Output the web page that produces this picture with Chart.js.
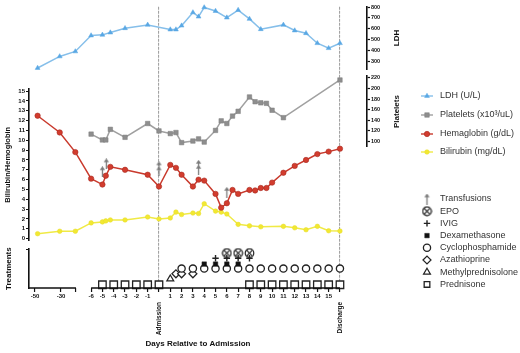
<!DOCTYPE html>
<html>
<head>
<meta charset="utf-8">
<script src="https://cdn.jsdelivr.net/npm/chart.js@4.4.1/dist/chart.umd.min.js"></script>
<style>
html,body{margin:0;padding:0;background:#fff;}
#wrap{position:relative;width:520px;height:353px;}
</style>
</head>
<body>
<div id="wrap"><canvas id="chart" width="520" height="353"></canvas></div>
<script>
// ================= DATA =================
const ldhDays   = [-48,-31,-19,-6,-5,-4.3,-3,-1,1,1.5,2,3,3.5,4,5,6,7,8,9,11,12,13,14,15,16];
const ldhValues = [237,344,390,537,543,564,604,635,592,592,628,750,711,796,763,702,772,690,595,635,583,558,466,420,466];

const plateletDays   = [-6,-5,-4.7,-4.3,-3,-1,0,1,1.5,2,3,3.5,4,5,5.5,6,6.5,7,8,8.5,9,9.5,10,11,16];
const plateletValues = [114,103,103,123,108,134,120,115,117,98,101,105,99,121,139,134,148,157,184,175,173,172,159,145,216];

const hemoglobinDays   = [-48,-31,-19,-6,-5,-4.7,-4.3,-3,-1,0,1,1.5,2,3,3.5,4,5,5.5,6,6.5,7,8,8.5,9,9.5,10,11,12,13,14,15,16];
const hemoglobinValues = [12.5,10.8,8.8,6.1,5.5,6.4,7.3,7.0,6.5,5.3,7.5,7.2,6.5,5.3,6.0,5.9,4.55,3.15,3.6,4.95,4.55,4.95,4.9,5.15,5.15,5.7,6.7,7.4,8.0,8.6,8.85,9.15];

const bilirubinDays   = [-48,-31,-19,-6,-5,-4.7,-4.3,-3,-1,0,1,1.5,2,3,3.5,4,5,5.5,6,7,8,9,11,12,13,14,15,16];
const bilirubinValues = [0.5,0.75,0.75,1.6,1.7,1.8,1.9,1.9,2.2,2.0,2.1,2.7,2.45,2.6,2.55,3.55,2.8,2.7,2.5,1.45,1.3,1.2,1.25,1.1,0.9,1.25,0.8,0.77];

// transfusions (marker level read on the Bilirubin/Hemoglobin scale, units given)
const transfusionDays   = [-5,-4.65,0,3.5,6];
const transfusionLevels = [6.8,7.6,7.1,7.25,4.7];
const transfusionUnits  = [1,1,2,2,1];

// treatments
const epoDays    = [6,7,8];
const ivigDays   = [5,6,7,8];
const dexaDays   = [4,5,6,7];
const cycloDays  = [2,3,4,5,6,7,8,9,10,11,12,13,14,15,16];
const azaDays    = [1.5,2,3];
const methylDays = [1];
const predDays   = [-5,-4,-3,-2,-1,0,8,9,10,11,12,13,14,15,16];
const treatmentNames  = ['Transfusions','EPO','IVIG','Dexamethasone','Cyclophosphamide','Azathioprine','Methylprednisolone','Prednisone'];
const treatmentLevels = {EPO:5.4, IVIG:4.6, Dexamethasone:3.7, Cyclophosphamide:3.0, Azathioprine:2.2, Methylprednisolone:1.4, Prednisone:0.5};

// axis ticks
const xTickDays = [-50,-30,-18.5,-6,-5,-4,-3,-2,-1,0,1,2,3,4,5,6,7,8,9,10,11,12,13,14,15,16];
const xTickLabels = xTickDays.map(d => (d === 0 || d === 16 || d === -18.5) ? '' : String(d));
const milestoneDays = [0,16];
const milestoneLabels = ['Admission','Discharge'];
const ldhTicks = [300,400,500,600,700,800];
const plateletTicks = [100,120,140,160,180,200,220];
const hgbTicks = [0,1,2,3,4,5,6,7,8,9,10,11,12,13,14,15];
const seriesLabels = ['LDH (U/L)','Platelets (x10\u00B3/uL)','Hemaglobin (g/dL)','Bilirubin (mg/dL)'];

// ================= AXIS BREAK (days -> axis units) =================
const LEFT_SEGMENT_END = -18.5;
function pos(d){ return d <= -18 ? -8.66 + (d + 30) * 0.115 : d; }
const X_MIN = -11.49, X_MAX = 18.39;
const toPts = (days, vals) => days.map((d,i) => ({x: pos(d), y: vals[i]}));
const rowPts = (days, level) => days.map(d => ({x: pos(d), y: level}));

// ================= ICONS =================
function icon(w,h,draw){ const c=document.createElement('canvas'); c.width=w; c.height=h; draw(c.getContext('2d'),w,h); return c; }
function arrowHead(g,x,y){ g.beginPath(); g.moveTo(x,y); g.lineTo(x-2.7,y+3.8); g.lineTo(x+2.7,y+3.8); g.closePath(); g.fill(); }
const arrow1 = icon(7,11,(g,w,h)=>{ g.strokeStyle='#7b7b7b'; g.fillStyle='#7b7b7b'; g.lineWidth=1.3;
  g.beginPath(); g.moveTo(w/2,h); g.lineTo(w/2,2); g.stroke(); arrowHead(g,w/2,0); });
const arrow2 = icon(7,15,(g,w,h)=>{ g.strokeStyle='#7b7b7b'; g.fillStyle='#7b7b7b'; g.lineWidth=1.3;
  g.beginPath(); g.moveTo(w/2,h); g.lineTo(w/2,2); g.stroke(); arrowHead(g,w/2,0); arrowHead(g,w/2,5); });
const epoIcon = icon(11,11,(g)=>{ g.strokeStyle='#222'; g.lineWidth=1.2; g.beginPath(); g.arc(5.5,5.5,4.3,0,Math.PI*2); g.stroke();
  g.beginPath(); g.moveTo(2.7,2.7); g.lineTo(8.3,8.3); g.moveTo(8.3,2.7); g.lineTo(2.7,8.3); g.stroke(); });

// ================= CHART =================
const FONT = '"Liberation Sans", Arial, Helvetica, sans-serif';
Chart.defaults.font.family = FONT;
Chart.defaults.color = '#111';

function spacer(position, stack, weight, stackWeight, width){
  return {type:'linear', position, stack, weight, stackWeight, display:true, min:0, max:1, bounds:'data',
    ticks:{display:false}, grid:{display:false, drawTicks:false}, border:{display:false},
    afterFit: s => { s.width = width; }};
}
const axisGrid = {display:true, drawOnChartArea:false, tickLength:3, tickColor:'#111', tickWidth:1.2};
const axisBorder = {display:true, color:'#111', width:1.6};
const titleFont = {size:7.5, weight:'bold'};

function treatDs(name, days, style, radius, fill, extra){
  return Object.assign({label:name, data: rowPts(days, treatmentLevels[name]), yAxisID:'yTreat', showLine:false,
    pointStyle:style, pointRadius:radius, pointBackgroundColor:fill, pointBorderColor:'#222', pointBorderWidth:1.2,
    borderColor:'#222', backgroundColor:fill, clip:false}, extra||{});
}

const datasets = [
  {label:'Transfusions', data: toPts(transfusionDays, transfusionLevels), yAxisID:'yHgb', showLine:false,
   pointStyle: c => transfusionUnits[c.dataIndex] > 1 ? arrow2 : arrow1, pointRadius:5, clip:false,
   borderColor:'#7b7b7b', backgroundColor:'#7b7b7b'},
  {label:seriesLabels[2], data: toPts(hemoglobinDays, hemoglobinValues), yAxisID:'yHgb',
   borderColor:'#c93a2d', borderWidth:1.5, pointStyle:'circle', pointRadius:2.7,
   pointBackgroundColor:'#d23c2e', pointBorderColor:'#a82a20', pointBorderWidth:0.6, tension:0, clip:false},
  {label:seriesLabels[1], data: toPts(plateletDays, plateletValues), yAxisID:'yPlt',
   borderColor:'#a0a0a0', borderWidth:1.5, pointStyle:'rect', pointRadius:3.2,
   pointBackgroundColor:'#8e8e8e', pointBorderColor:'#7c7c7c', pointBorderWidth:0.5, tension:0, clip:false},
  {label:seriesLabels[0], data: toPts(ldhDays, ldhValues), yAxisID:'yLDH',
   borderColor:'#86bfea', borderWidth:1.5, pointStyle:'triangle', pointRadius:2.8,
   pointBackgroundColor:'#5aa8e4', pointBorderColor:'#5aa8e4', pointBorderWidth:0.5, tension:0, clip:false},
  {label:seriesLabels[3], data: toPts(bilirubinDays, bilirubinValues), yAxisID:'yHgb',
   borderColor:'#f0ea45', borderWidth:1.5, pointStyle:'circle', pointRadius:2.3,
   pointBackgroundColor:'#f2e832', pointBorderColor:'#e6dc2a', pointBorderWidth:0.5, tension:0, clip:false},
  treatDs('EPO', epoDays, epoIcon, 5.5, '#fff'),
  treatDs('IVIG', ivigDays, 'cross', 3.2, '#222', {pointBorderWidth:1.4}),
  treatDs('Dexamethasone', dexaDays, 'rect', 3.2, '#111', {pointBorderWidth:0.5}),
  treatDs('Cyclophosphamide', cycloDays, 'circle', 3.6, '#fff', {pointBorderWidth:1.3}),
  treatDs('Azathioprine', azaDays, 'rectRot', 4, '#fff'),
  treatDs('Methylprednisolone', methylDays, 'triangle', 4, '#fff'),
  treatDs('Prednisone', predDays, 'rect', 5.3, '#fff', {pointBorderWidth:1.3})
];

const byLabel = l => datasets.find(d => d.label === l);

const layoutPlugin = {
  id:'extras',
  afterDraw(chart){
    const ctx = chart.ctx, ca = chart.chartArea, xs = chart.scales.x;
    ctx.save();
    // broken x axis line
    ctx.strokeStyle = '#111'; ctx.lineWidth = 1.6;
    ctx.beginPath();
    ctx.moveTo(ca.left, ca.bottom); ctx.lineTo(xs.getPixelForValue(pos(LEFT_SEGMENT_END)), ca.bottom);
    ctx.moveTo(xs.getPixelForValue(pos(-6)), ca.bottom); ctx.lineTo(xs.getPixelForValue(pos(16)), ca.bottom);
    ctx.stroke();
    // right axis titles (reading bottom to top)
    ctx.fillStyle = '#111'; ctx.font = 'bold 8px ' + FONT; ctx.textAlign = 'center'; ctx.textBaseline = 'middle';
    [['yLDH','LDH'],['yPlt','Platelets']].forEach(([id,t]) => {
      const s = chart.scales[id];
      ctx.save(); ctx.translate(s.right - 10, (s.top + s.bottom)/2); ctx.rotate(-Math.PI/2); ctx.fillText(t,0,0); ctx.restore();
    });
    // legends
    const MX = 427, TX = 440;
    ctx.font = '9px ' + FONT; ctx.textAlign = 'left'; ctx.fillStyle = '#333';
    const seriesY = [96,115,134,152];
    seriesLabels.forEach((l,i) => {
      const ds = byLabel(l), y = seriesY[i];
      ctx.strokeStyle = ds.borderColor; ctx.lineWidth = 1.4;
      ctx.beginPath(); ctx.moveTo(MX-6,y); ctx.lineTo(MX+6,y); ctx.stroke();
      ctx.fillStyle = ds.pointBackgroundColor; ctx.strokeStyle = ds.pointBorderColor; ctx.lineWidth = ds.pointBorderWidth;
      Chart.helpers.drawPoint(ctx, {pointStyle:ds.pointStyle, radius:ds.pointRadius, borderWidth:ds.pointBorderWidth, rotation:0}, MX, y);
      ctx.fillStyle = '#333'; ctx.fillText(l, TX, y);
    });
    treatmentNames.forEach((l,i) => {
      const ds = byLabel(l), y = 199 + i*12.2;
      const style = l === 'Transfusions' ? arrow1 : ds.pointStyle;
      const r = Math.min(ds.pointRadius, 4);
      ctx.fillStyle = ds.pointBackgroundColor || '#777'; ctx.strokeStyle = ds.pointBorderColor || '#777';
      ctx.lineWidth = ds.pointBorderWidth || 1;
      Chart.helpers.drawPoint(ctx, {pointStyle:style, radius:r, borderWidth:ds.pointBorderWidth || 1, rotation:0}, MX, y);
      ctx.fillStyle = '#333'; ctx.fillText(l, TX, y);
    });
    ctx.restore();
  }
};

new Chart(document.getElementById('chart'), {
  type:'line',
  data:{datasets},
  options:{
    responsive:false, animation:false, events:[],
    layout:{padding:{top:5, right:113, bottom:0, left:0}},
    plugins:{legend:{display:false}, tooltip:{enabled:false}},
    scales:{
      x:{type:'linear', position:'bottom', weight:1, min:X_MIN, max:X_MAX, bounds:'data',
        afterBuildTicks: s => { s.ticks = xTickDays.map(d => ({value: pos(d)})); },
        ticks:{autoSkip:false, maxRotation:0, minRotation:0, padding:1, font:{size:6, weight:'bold'}, color:'#111',
          callback:(v,i) => xTickLabels[i]},
        grid:{display:true, drawOnChartArea:true,
          color: c => (c.tick && milestoneDays.some(d => Math.abs(pos(d) - c.tick.value) < 1e-6)) ? '#a3a3a3' : 'rgba(0,0,0,0)',
          lineWidth:1.1, tickColor:'#111', tickLength:4, tickWidth:1.2},
        border:{display:false, dash:[3,1]},
        afterFit: s => { s.height = 12; }
      },
      x2:{type:'linear', position:'bottom', weight:2, min:X_MIN, max:X_MAX, bounds:'data',
        afterBuildTicks: s => { s.ticks = milestoneDays.map(d => ({value: pos(d)})); },
        ticks:{autoSkip:false, minRotation:90, maxRotation:90, padding:2, font:{size:6.5, weight:'bold'}, color:'#111',
          callback:(v,i) => milestoneLabels[i]},
        grid:{display:false, drawTicks:false}, border:{display:false},
        title:{display:true, text:'Days Relative to Admission', font:{size:8, weight:'bold'}, color:'#111', padding:{top:4, bottom:4}},
        afterFit: s => { s.height = 53; }
      },
      yLDH:{type:'linear', position:'right', stack:'R', weight:1, stackWeight:63, min:225, max:803, bounds:'data',
        afterBuildTicks: s => { s.ticks = ldhTicks.map(v => ({value:v})); },
        ticks:{autoSkip:false, padding:1, font:{size:5.5, weight:'bold'}, color:'#111'},
        grid:axisGrid, border:axisBorder, afterFit: s => { s.width = 40; }
      },
      gapR: spacer('right','R',2,7,40),
      yPlt:{type:'linear', position:'right', stack:'R', weight:3, stackWeight:71, min:90, max:223, bounds:'data',
        afterBuildTicks: s => { s.ticks = plateletTicks.map(v => ({value:v})); },
        ticks:{autoSkip:false, padding:1, font:{size:5.5, weight:'bold'}, color:'#111'},
        grid:axisGrid, border:axisBorder, afterFit: s => { s.width = 40; }
      },
      spacerR: spacer('right','R',4,142,40),
      spacerL: spacer('left','L',4,83,29),
      yHgb:{type:'linear', position:'left', stack:'L', weight:3, stackWeight:152, min:-0.17, max:15.2, bounds:'data',
        afterBuildTicks: s => { s.ticks = hgbTicks.map(v => ({value:v})); },
        ticks:{autoSkip:false, padding:1, font:{size:6, weight:'bold'}, color:'#111'},
        grid:axisGrid, border:axisBorder,
        title:{display:true, text:'Bilirubin/Hemoglobin', font:titleFont, color:'#111', padding:{top:3.5, bottom:0}},
        afterFit: s => { s.width = 29; }
      },
      gapL: spacer('left','L',2,9,29),
      yTreat:{type:'linear', position:'left', stack:'L', weight:1, stackWeight:39, min:0, max:6, bounds:'data',
        afterBuildTicks: s => { s.ticks = [{value:6}]; },
        ticks:{display:false},
        grid:axisGrid, border:axisBorder,
        title:{display:true, text:'Treatments', font:{size:8, weight:'bold'}, color:'#111', padding:{top:3.5, bottom:0}},
        afterFit: s => { s.width = 29; }
      }
    }
  },
  plugins:[layoutPlugin]
});
</script>
</body>
</html>
